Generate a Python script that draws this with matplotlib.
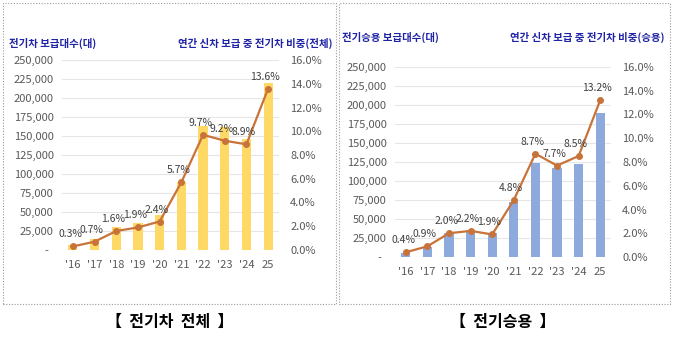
import matplotlib.pyplot as plt
from matplotlib.patches import Rectangle
from matplotlib.ticker import FuncFormatter

plt.rcParams['font.family'] = ['Noto Sans CJK KR', 'DejaVu Sans']

# 데이터
years = ["'16", "'17", "'18", "'19", "'20", "'21", "'22", "'23", "'24", "25"]

ev_total = [6000, 14000, 30000, 35000, 46000, 90000, 163000, 162000, 146000, 220000]
ev_total_share = [0.3, 0.7, 1.6, 1.9, 2.4, 5.7, 9.7, 9.2, 8.9, 13.6]

ev_car = [5000, 13000, 31000, 34000, 31000, 72000, 124000, 117000, 123000, 189000]
ev_car_share = [0.4, 0.9, 2.0, 2.2, 1.9, 4.8, 8.7, 7.7, 8.5, 13.2]

W, H = 680, 339
fig = plt.figure(figsize=(6.8, 3.39), dpi=100)

title_col = '#1F23A6'
tick_col = '#595959'
line_col = '#C8733A'


def count_fmt(v, pos):
    if abs(v) < 1:
        return '-  '
    return f'{v:,.0f}'


def draw_panel(px0, py0, pw, ph, counts, shares, bar_col, ltitle, rtitle,
               title_y, lt_x, rt_x, box, caption, cap_x):
    ax = fig.add_axes([px0 / W, 1 - (py0 + ph) / H, pw / W, ph / H])
    x = list(range(len(years)))
    ax.bar(x, counts, width=0.42, color=bar_col, zorder=2)
    ax.set_ylim(0, 250000)
    ax.set_yticks(range(0, 250001, 25000))
    ax.yaxis.set_major_formatter(FuncFormatter(count_fmt))
    ax.set_xlim(-0.5, len(years) - 0.5)
    ax.set_xticks(x)
    ax.set_xticklabels(years)
    ax.grid(axis='y', color='#E6E6E6', linewidth=0.8, zorder=0)
    ax.tick_params(length=0, labelsize=8, colors=tick_col, pad=6)
    ax.tick_params(axis='x', pad=7)
    for s in ax.spines.values():
        s.set_visible(False)

    ax2 = ax.twinx()
    ax2.plot(x, shares, color=line_col, linewidth=1.6, marker='o', markersize=4, zorder=3)
    ax2.set_ylim(0, 16)
    ax2.set_yticks(range(0, 17, 2))
    ax2.yaxis.set_major_formatter(FuncFormatter(lambda v, p: f'{v:.1f}%'))
    ax2.tick_params(length=0, labelsize=8, colors=tick_col, pad=8)
    for s in ax2.spines.values():
        s.set_visible(False)
    for xi, v in zip(x, shares):
        ax2.annotate(f'{v:.1f}%', (xi, v), xytext=(-2, 5), textcoords='offset points',
                     ha='center', va='bottom', fontsize=7.5, color='#404040')

    fig.text(lt_x / W, 1 - title_y / H, ltitle, fontsize=7.5, fontweight='bold',
             color=title_col, ha='left', va='center')
    fig.text(rt_x / W, 1 - title_y / H, rtitle, fontsize=7.5, fontweight='bold',
             color=title_col, ha='right', va='center')

    bx0, by0, bx1, by1 = box
    fig.patches.append(Rectangle((bx0 / W, 1 - by1 / H), (bx1 - bx0) / W, (by1 - by0) / H,
                                 transform=fig.transFigure, fill=False,
                                 edgecolor='#9A9A9A', linestyle=(0, (1, 1.5)), linewidth=0.8))
    fig.text(cap_x / W, 1 - 322 / H, caption, fontsize=11.5, fontweight='bold',
             color='black', ha='center', va='center')


draw_panel(62, 60, 217, 190, ev_total, ev_total_share, '#FFD966',
           '전기차 보급대수(대)', '연간 신차 보급 중 전기차 비중(전체)', 43, 9, 332,
           (3, 3, 336, 304), '【  전기차  전체  】', 170)

draw_panel(395, 67, 216, 190, ev_car, ev_car_share, '#8EA9DB',
           '전기승용 보급대수(대)', '연간 신차 보급 중 전기차 비중(승용)', 37, 342, 664,
           (339, 3, 670, 304), '【  전기승용  】', 503)

fig.savefig('out.png', dpi=100)
